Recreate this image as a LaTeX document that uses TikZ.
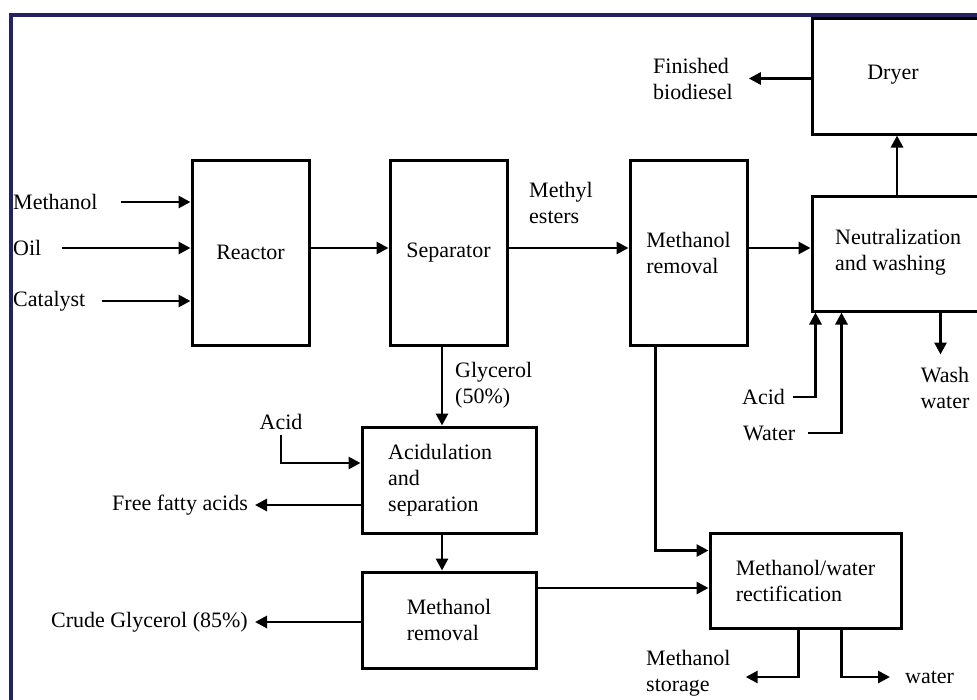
\documentclass[tikz,border=0pt]{standalone}
\usepackage{fontspec}
\setmainfont{Liberation Serif}
\usetikzlibrary{arrows.meta,calc}
\definecolor{navy}{RGB}{35,35,100}
\tikzset{
  box/.style={draw, line width=3pt, rectangle, inner sep=0pt, font=\fontsize{22pt}{26pt}\selectfont, align=left},
  lab/.style={inner sep=0pt, font=\fontsize{22pt}{26pt}\selectfont, align=left},
  arr/.style={line width=2.8pt, -{Triangle[length=12pt,width=12pt]}},
  ln/.style={line width=2.8pt}
}
\begin{document}
\begin{tikzpicture}[x=1pt,y=-1pt]
\useasboundingbox (0,0) rectangle (977,699);
\clip (0,0) rectangle (977,699);
\fill[white] (0,0) rectangle (977,699);
\draw[navy, line width=3.5pt] (11,710) -- (11,15) -- (990,15);
% boxes
\node[box, minimum width=117pt, minimum height=185pt] (reactor) at (250.5,252.5) {Reactor};
\node[box, minimum width=117pt, minimum height=185pt] (sep) at (448.5,252.5) {Separator};
\node[box, minimum width=117pt, minimum height=185pt] (mr1) at (688.5,252.5) {Methanol\\removal};
\node[box, minimum width=190pt, minimum height=116pt] (dryer) at (907,76) {};
\node[lab] (dryerT) at (893,75) {Dryer};
\node[box, minimum width=190pt, minimum height=115pt] (nw) at (907,253.5) {};
\node[lab, anchor=west] (nwT) at (835,252) {Neutralization\\and washing};
\node[box, minimum width=174pt, minimum height=106pt] (acidbox) at (449,480) {};
\node[lab, anchor=west] (acidT) at (388,480) {Acidulation\\and\\separation};
\node[box, minimum width=174pt, minimum height=96pt] (mr2) at (449,620) {Methanol\\removal};
\node[box, minimum width=191pt, minimum height=95pt] (rect) at (805.5,580.5) {Methanol/water\\rectification};
% labels
\coordinate (flow) at (0,248);
\node[lab, anchor=west] (methL) at (13,202) {Methanol};
\node[lab, anchor=west] (oilL) at (13,248) {Oil};
\node[lab, anchor=west] (catL) at (13,301) {Catalyst};
\node[lab, anchor=west] (meL) at (529,203) {Methyl\\esters};
\node[lab, anchor=west] (finL) at (653,78.5) {Finished\\biodiesel};
\node[lab, anchor=west] (glyL) at (455,385) {Glycerol\\(50\%)};
\node[lab] (acidL) at (281,422) {Acid};
\node[lab, anchor=east] (ffaL) at (248,505) {Free fatty acids};
\node[lab, anchor=east] (crudeL) at (248,622) {Crude Glycerol (85\%)};
\node[lab, anchor=west] (acidR) at (742,397) {Acid};
\node[lab, anchor=west] (waterR) at (743,433) {Water};
\node[lab, align=center] (washL) at (945,388) {Wash\\water};
\node[lab, anchor=west] (storL) at (646,673) {Methanol\\storage};
\node[lab, anchor=west] (waterL) at (905,677) {water};
% connectors
\draw[arr] ([xshift=23pt]methL.east) -- (methL.east -| reactor.west);
\draw[arr] ([xshift=20pt]oilL.east) -- (oilL.east -| reactor.west);
\draw[arr] ([xshift=16pt]catL.east) -- (catL.east -| reactor.west);
\draw[arr] (reactor.east |- flow) -- (sep.west |- flow);
\draw[arr] (sep.east |- flow) -- (mr1.west |- flow);
\draw[arr] (mr1.east |- flow) -- (nw.west |- flow);
\draw[arr] ([xshift=-10pt]nw.north) -- ([xshift=-10pt]dryer.south);
\draw[arr] (dryer.west |- finL.east) -- ([xshift=16pt]finL.east);
\draw[arr] ([xshift=130pt]nw.south west) -- ([xshift=130pt,yshift=-42pt]nw.south west);
\draw[arr] ([xshift=8pt]acidR.east) -| ([xshift=5pt]nw.south west);
\draw[arr] ([xshift=13pt]waterR.east) -| ([xshift=31pt]nw.south west);
\draw[arr] ([xshift=-6.5pt]sep.south) -- ([xshift=-6.5pt]sep.south |- acidbox.north);
\draw[arr] ([xshift=-7pt]acidbox.south) -- ([xshift=-7pt]mr2.north);
\draw[arr] ([yshift=-5pt]acidL.south) |- ([yshift=17pt]acidbox.west);
\draw[arr] (acidbox.west |- ffaL.east) -- ([xshift=7pt]ffaL.east);
\draw[arr] (mr2.west |- crudeL.east) -- ([xshift=7pt]crudeL.east);
\draw[arr] ([yshift=32pt]mr2.east) -- ([yshift=32pt]mr2.east -| rect.west);
\draw[arr] ([xshift=27pt]mr1.south west) |- ([yshift=-19pt]rect.north west);
\draw[arr] ([xshift=90pt]rect.south west) |- ([xshift=15pt,yshift=-4pt]storL.east);
\draw[arr] ([xshift=133pt]rect.south west) |- ([xshift=-15pt]waterL.west);
\end{tikzpicture}
\end{document}
